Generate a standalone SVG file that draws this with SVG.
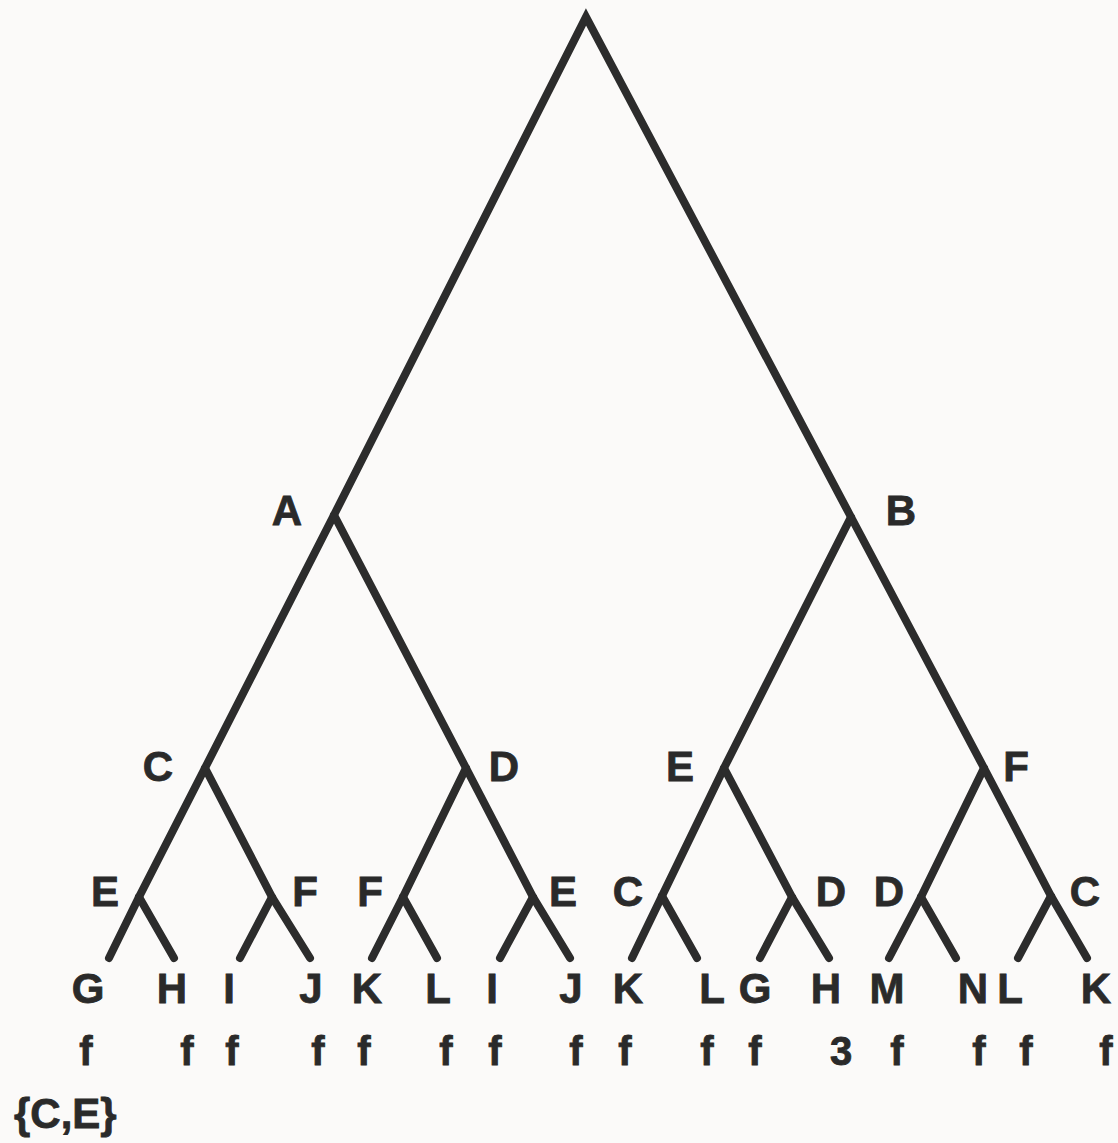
<svg xmlns="http://www.w3.org/2000/svg" width="1118" height="1143" viewBox="0 0 1118 1143">
<style>
.bg{fill:#fbfaf9}
.e{fill:none;stroke:#2c2c2c;stroke-width:8;stroke-linecap:round;stroke-linejoin:miter;stroke-miterlimit:10}
.t{font-family:"Liberation Sans",Arial,sans-serif;font-weight:bold;font-size:42px;fill:#2a2a2a;stroke:#2a2a2a;stroke-width:0.8;text-anchor:middle}
.v{font-family:"Liberation Sans",Arial,sans-serif;font-weight:bold;font-size:40px;fill:#2a2a2a;stroke:#2a2a2a;stroke-width:0.8;text-anchor:middle}
</style>
<rect class="bg" x="0" y="0" width="1118" height="1143"/>
<g id="connectors">
  <polyline class="e" points="109,958 139,897 205,768 334,515 586,17 851,517 984,768 1051,896 1087,958"/>
  <polyline class="e" points="334,515 466,768 533,897 570,958"/>
  <polyline class="e" points="851,517 724,768 662,896 632,958"/>
  <polyline class="e" points="205,768 272,897 310,958"/>
  <polyline class="e" points="466,768 403,897 372,958"/>
  <polyline class="e" points="724,768 792,897 829,958"/>
  <polyline class="e" points="984,768 921,897 889,958"/>
  <polyline class="e" points="139,897 174,958"/>
  <polyline class="e" points="272,897 240,958"/>
  <polyline class="e" points="403,897 437,958"/>
  <polyline class="e" points="533,897 500,958"/>
  <polyline class="e" points="662,896 697,958"/>
  <polyline class="e" points="792,897 760,958"/>
  <polyline class="e" points="921,897 956,958"/>
  <polyline class="e" points="1051,896 1018,958"/>
</g>
<g id="node-A"><text class="t" x="287" y="525">A</text></g>
<g id="node-B"><text class="t" x="901" y="525">B</text></g>
<g id="node-C-1"><text class="t" x="158" y="781">C</text></g>
<g id="node-D-1"><text class="t" x="504" y="781">D</text></g>
<g id="node-E-1"><text class="t" x="680" y="781">E</text></g>
<g id="node-F-1"><text class="t" x="1016" y="781">F</text></g>
<g id="node-E-2"><text class="t" x="105" y="906">E</text></g>
<g id="node-F-2"><text class="t" x="305" y="906">F</text></g>
<g id="node-F-3"><text class="t" x="370" y="906">F</text></g>
<g id="node-E-3"><text class="t" x="563" y="906">E</text></g>
<g id="node-C-2"><text class="t" x="628" y="906">C</text></g>
<g id="node-D-2"><text class="t" x="831" y="906">D</text></g>
<g id="node-D-3"><text class="t" x="889" y="906">D</text></g>
<g id="node-C-3"><text class="t" x="1085" y="906">C</text></g>
<g id="leaf-G-1"><text class="t" x="88" y="1003">G</text><text class="v" x="86" y="1065">f</text></g>
<g id="leaf-H-1"><text class="t" x="172" y="1003">H</text><text class="v" x="187" y="1065">f</text></g>
<g id="leaf-I-1"><text class="t" x="229" y="1003">I</text><text class="v" x="232" y="1065">f</text></g>
<g id="leaf-J-1"><text class="t" x="311" y="1003">J</text><text class="v" x="318" y="1065">f</text></g>
<g id="leaf-K-1"><text class="t" x="367" y="1003">K</text><text class="v" x="364" y="1065">f</text></g>
<g id="leaf-L-1"><text class="t" x="438" y="1003">L</text><text class="v" x="446" y="1065">f</text></g>
<g id="leaf-I-2"><text class="t" x="492" y="1003">I</text><text class="v" x="495" y="1065">f</text></g>
<g id="leaf-J-2"><text class="t" x="571" y="1003">J</text><text class="v" x="576" y="1065">f</text></g>
<g id="leaf-K-2"><text class="t" x="628" y="1003">K</text><text class="v" x="625" y="1065">f</text></g>
<g id="leaf-L-2"><text class="t" x="712" y="1003">L</text><text class="v" x="707" y="1065">f</text></g>
<g id="leaf-G-2"><text class="t" x="755" y="1003">G</text><text class="v" x="755" y="1065">f</text></g>
<g id="leaf-H-2"><text class="t" x="826" y="1003">H</text><text class="v" x="841" y="1065">3</text></g>
<g id="leaf-M"><text class="t" x="887" y="1003">M</text><text class="v" x="897" y="1065">f</text></g>
<g id="leaf-N"><text class="t" x="973" y="1003">N</text><text class="v" x="979" y="1065">f</text></g>
<g id="leaf-L-3"><text class="t" x="1010" y="1003">L</text><text class="v" x="1026" y="1065">f</text></g>
<g id="leaf-K-3"><text class="t" x="1096" y="1003">K</text><text class="v" x="1106" y="1065">f</text></g>
<g id="caption"><text class="t" x="14" y="1128" style="text-anchor:start">{C,E}</text></g>
</svg>
